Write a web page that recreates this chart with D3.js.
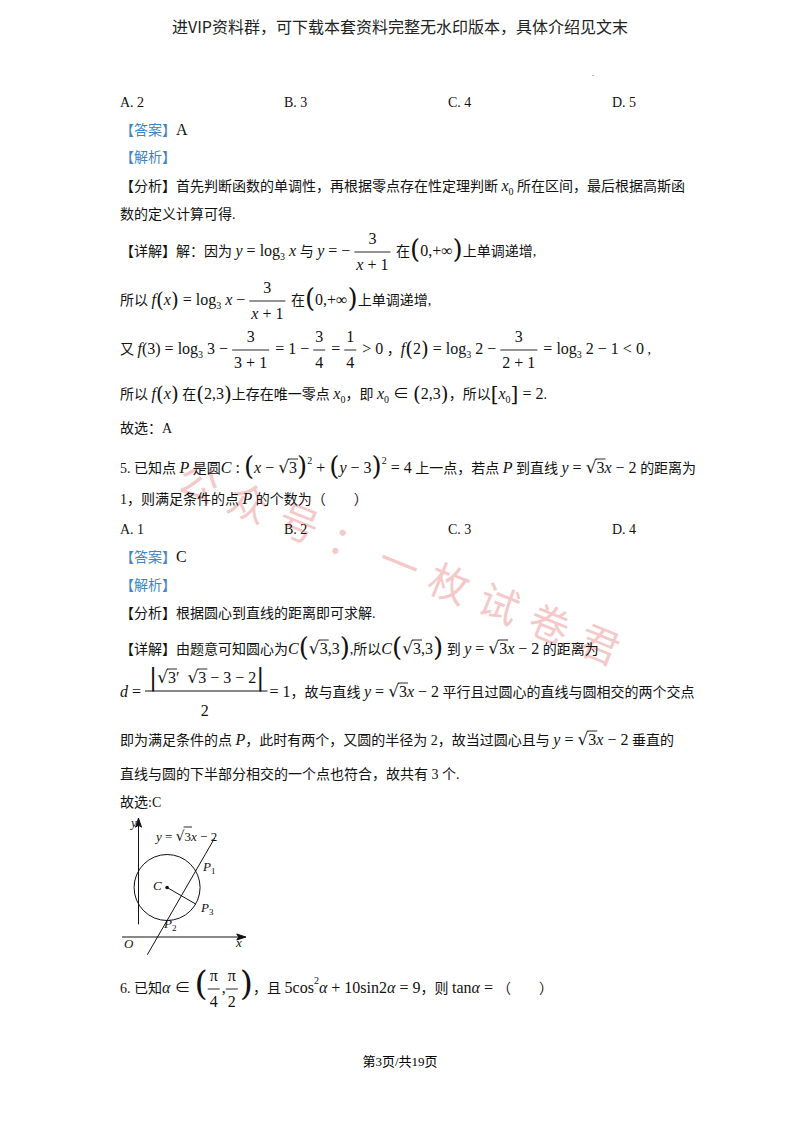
<!DOCTYPE html>
<html><head><meta charset="utf-8">
<script src="https://cdn.jsdelivr.net/npm/d3@7"></script>
<style>body{margin:0;background:#fff}svg{display:block}text{white-space:pre}</style>
</head><body>
<script>
// ---- data ----
const header = "进VIP资料群，可下载本套资料完整无水印版本，具体介绍见文末";
const footer = "第3页/共19页";
const options4 = ["A. 2","B. 3","C. 4","D. 5"];
const options5 = ["A. 1","B. 2","C. 3","D. 4"];
const watermark = "公众号：一枚试卷君";
// figure data (math units)
const center = [Math.sqrt(3), 3];
const radius = 2;
const lineSlope = Math.sqrt(3), lineIntercept = -2;
const lineXRange = [0.53, 4.62];
const axisX = [-1, 6.5], axisY = [-0.2, 7.2];

const W=800,H=1132;
const BLUE="#3d86c6";
const svg=d3.select("body").append("svg").attr("width",W).attr("height",H);
const CJK="'Noto Sans CJK SC'";
const SER="'Liberation Serif','Noto Sans CJK SC'";

svg.append("text").attr("x",400).attr("y",580).attr("transform","rotate(22,400,580)")
 .attr("text-anchor","middle").attr("font-family",CJK).attr("font-size",40).attr("fill","#f2b8b8").attr("opacity",0.75)
 .attr("letter-spacing",14).text(watermark);

svg.append("text").attr("x",400).attr("y",33).attr("text-anchor","middle").attr("font-family",CJK).attr("font-size",16).attr("fill","#222").text(header);
svg.append("text").attr("x",400).attr("y",1066).attr("text-anchor","middle").attr("font-family",SER).attr("font-size",13).text(footer);
svg.append("text").attr("x",592).attr("y",76).attr("font-size",8).text(".");

function t(x,y,s,opt={}){
  const n=svg.append("text").attr("x",x).attr("y",y).attr("font-family",opt.f||SER).attr("font-size",opt.s||14)
   .attr("font-style",opt.i?"italic":null).attr("fill",opt.c||"#111").text(s);
  return x+n.node().getComputedTextLength();
}
function R(x,y,segs,size=14){
  for(const sg of segs){
    if(typeof sg==="string"){ x=t(x,y,sg,{s:size}); }
    else if(sg.blue){ x=t(x,y,sg.blue,{s:size,c:BLUE}); }
    else if(sg.i){ x=t(x,y,sg.i,{s:size+2,i:1}); }
    else if(sg.m){ x=t(x,y,sg.m,{s:size+2}); }
    else if(sg.sub){ x=t(x,y+4,sg.sub,{s:size-4}); }
    else if(sg.sup){ x=t(x,y-9,sg.sup,{s:size-4}); }
    else if(sg.big){ x=t(x,y+2,sg.big,{s:sg.bs||26,f:"'DejaVu Serif'"}); }
    else if(sg.sq){
      x=t(x,y,"√",{s:size+3,f:"'DejaVu Sans'"});
      const x1=x; x=t(x,y,sg.sq,{s:size+2});
      svg.append("line").attr("x1",x1-1).attr("x2",x+1).attr("y1",y-14).attr("y2",y-14).attr("stroke","#111").attr("stroke-width",0.9);
    }
    else if(sg.fr){
      const a=R(0,-1000,sg.fr[0],size), b=R(0,-1000,sg.fr[1],size);
      svg.selectAll("text").filter(function(){return +this.getAttribute("y")<-900}).remove();
      svg.selectAll("line").filter(function(){return +this.getAttribute("y1")<-900}).remove();
      const w=Math.max(a,b)+4;
      R(x+(w-a)/2,y-12,sg.fr[0],size);
      R(x+(w-b)/2,y+14,sg.fr[1],size);
      svg.append("line").attr("x1",x).attr("x2",x+w).attr("y1",y-4).attr("y2",y-4).attr("stroke","#111").attr("stroke-width",0.9);
      x+=w+2;
    }
  }
  return x;
}

options4.forEach((o,i)=>t(120+i*164,107,o));
R(120,135,[{blue:"【答案】"},{m:"A"}]);
R(120,162,[{blue:"【解析】"}]);
R(120,191,["【分析】首先判断函数的单调性，再根据零点存在性定理判断 ",{i:"x"},{sub:"0"}," 所在区间，最后根据高斯函"]);
R(120,219,["数的定义计算可得."]);
R(120,256,["【详解】解：因为 ",{i:"y"},{m:" = log"},{sub:"3"},{m:" "},{i:"x"}," 与 ",{i:"y"},{m:" = − "},{fr:[[{m:"3"}],[{i:"x"},{m:" + 1"}]]}," 在",{big:"("},{m:"0,+∞"},{big:")"},"上单调递增,"]);
R(120,305,["所以 ",{i:"f"},{big:"(",bs:20},{i:"x"},{big:")",bs:20},{m:" = log"},{sub:"3"},{m:" "},{i:"x"},{m:" − "},{fr:[[{m:"3"}],[{i:"x"},{m:" + 1"}]]}," 在",{big:"("},{m:"0,+∞"},{big:")"},"上单调递增,"]);
R(120,354,["又 ",{i:"f"},{m:"(3) = log"},{sub:"3"},{m:" 3 − "},{fr:[[{m:"3"}],[{m:"3 + 1"}]]},{m:" = 1 − "},{fr:[[{m:"3"}],[{m:"4"}]]},{m:" = "},{fr:[[{m:"1"}],[{m:"4"}]]},{m:" > 0"}," ，",{i:"f"},{big:"(",bs:20},{m:"2"},{big:")",bs:20},{m:" = log"},{sub:"3"},{m:" 2 − "},{fr:[[{m:"3"}],[{m:"2 + 1"}]]},{m:" = log"},{sub:"3"},{m:" 2 − 1 < 0"}," ,"]);
R(120,399,["所以 ",{i:"f"},{big:"(",bs:20},{i:"x"},{big:")",bs:20}," 在",{big:"(",bs:20},{m:"2,3"},{big:")",bs:20},"上存在唯一零点 ",{i:"x"},{sub:"0"},"，即 ",{i:"x"},{sub:"0"},{m:" ∈ "},{big:"(",bs:20},{m:"2,3"},{big:")",bs:20},"，所以",{big:"[",bs:20},{i:"x"},{sub:"0"},{big:"]",bs:20},{m:" = 2"},"."]);
R(120,433,["故选：A"]);
R(120,473,["5. 已知点 ",{i:"P"}," 是圆",{i:"C"},{m:" : "},{big:"("},{i:"x"},{m:" − "},{sq:"3"},{big:")"},{sup:"2"},{m:" + "},{big:"("},{i:"y"},{m:" − 3"},{big:")"},{sup:"2"},{m:" = 4"}," 上一点，若点 ",{i:"P"}," 到直线 ",{i:"y"},{m:" = "},{sq:"3"},{i:"x"},{m:" − 2"}," 的距离为"]);
R(120,504,["1，则满足条件的点 ",{i:"P"}," 的个数为（        ）"]);
options5.forEach((o,i)=>t(120+i*164,534,o));
R(120,562,[{blue:"【答案】"},{m:"C"}]);
R(120,590,[{blue:"【解析】"}]);
R(120,618,["【分析】根据圆心到直线的距离即可求解."]);
R(120,654,["【详解】由题意可知圆心为",{i:"C"},{big:"("},{sq:"3"},{m:",3"},{big:")"},",所以",{i:"C"},{big:"("},{sq:"3"},{m:",3"},{big:")"}," 到 ",{i:"y"},{m:" = "},{sq:"3"},{i:"x"},{m:" − 2"}," 的距离为"]);
(function(){
  let x=R(120,697,[{i:"d"},{m:" = "}]);
  const x0=x; let xn=R(x+4,683,[{big:"|",bs:24},{sq:"3"},{m:"′  "},{sq:"3"},{m:" − 3 − 2"},{big:"|",bs:24}]);
  svg.append("line").attr("x1",x0).attr("x2",xn+3).attr("y1",691).attr("y2",691).attr("stroke","#111");
  t((x0+xn)/2-4,716,"2",{s:16});
  R(xn+5,697,[{m:"= 1"},"，故与直线 ",{i:"y"},{m:" = "},{sq:"3"},{i:"x"},{m:" − 2"}," 平行且过圆心的直线与圆相交的两个交点"]);
})();
R(120,745,["即为满足条件的点 ",{i:"P"},"，此时有两个，又圆的半径为 2，故当过圆心且与 ",{i:"y"},{m:" = "},{sq:"3"},{i:"x"},{m:" − 2"}," 垂直的"]);
R(120,779,["直线与圆的下半部分相交的一个点也符合，故共有 3 个."]);
R(120,807,["故选:C"]);
R(120,993,["6. 已知",{i:"α"},{m:" ∈ "},{big:"(",bs:34},{fr:[[{m:"π"}],[{m:"4"}]]},{m:","},{fr:[[{m:"π"}],[{m:"2"}]]},{big:")",bs:34},"，且 ",{m:"5cos"},{sup:"2"},{i:"α"},{m:" + 10sin2"},{i:"α"},{m:" = 9"},"，则 ",{m:"tan"},{i:"α"},{m:" = "},"（        ）"]);

// ---- figure ----
const fx=d3.scaleLinear().domain([0,1]).range([138.5,155]);
const fy=d3.scaleLinear().domain([0,1]).range([937,920.5]);
const fg=svg.append("g").attr("stroke","#111").attr("fill","none").attr("stroke-width",1);
fg.append("line").attr("x1",fx(axisX[0])).attr("x2",fx(axisX[1])).attr("y1",fy(0)).attr("y2",fy(0));
fg.append("line").attr("x1",fx(0)).attr("x2",fx(0)).attr("y1",fy(axisY[0])-16).attr("y2",fy(axisY[1]));
fg.append("path").attr("d",`M${fx(axisX[1])},${fy(0)} l-9,-3 l2,3 l-2,3z`).attr("fill","#111");
fg.append("path").attr("d",`M${fx(0)},${fy(axisY[1])} l-3,9 l3,-2 l3,2z`).attr("fill","#111");
fg.append("circle").attr("cx",fx(center[0])).attr("cy",fy(center[1])).attr("r",fx(radius)-fx(0));
fg.append("line").attr("x1",fx(lineXRange[0])).attr("y1",fy(lineSlope*lineXRange[0]+lineIntercept))
  .attr("x2",fx(lineXRange[1])).attr("y2",fy(lineSlope*lineXRange[1]+lineIntercept));
const p3=[center[0]+radius*Math.sqrt(3)/2, center[1]-radius/2];
fg.append("line").attr("x1",fx(center[0])).attr("y1",fy(center[1])).attr("x2",fx(p3[0])).attr("y2",fy(p3[1]));
svg.append("circle").attr("cx",fx(center[0])).attr("cy",fy(center[1])).attr("r",1.8).attr("fill","#111");
const lab=(x,y,s,sub)=>{let e=t(x,y,s,{s:13,i:1}); if(sub) t(e,y+3,sub,{s:9});};
lab(131,827,"y"); lab(236,947,"x"); lab(124,948,"O");
lab(153,890,"C"); lab(203,871,"P","1"); lab(201,912,"P","3"); lab(164,928,"P","2");
R(156,841,[{i:"y"},{m:" = "},{sq:"3"},{i:"x"},{m:" − 2"}],11);
</script>
</body></html>
